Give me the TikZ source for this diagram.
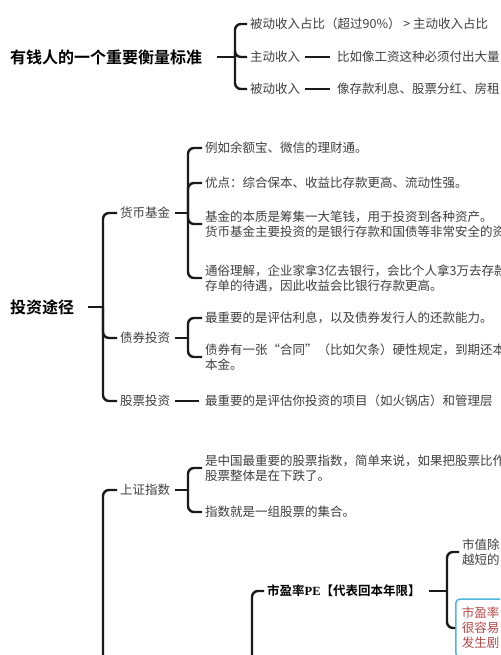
\documentclass[tikz,border=0pt]{standalone}
\usepackage{fontspec}
\newfontfamily\cjk{Noto Sans CJK SC}[BoldFont={Noto Sans CJK SC Bold}]
\newfontfamily\latinserif{Liberation Serif}
\definecolor{textgray}{RGB}{64, 64, 64}
\definecolor{linedark}{RGB}{26, 26, 26}
\definecolor{boxblue}{RGB}{79, 183, 221}
\definecolor{notered}{RGB}{184, 72, 74}
\usetikzlibrary{positioning, calc}

\tikzset{
  root/.style={font=\cjk\bfseries\fontsize{16}{19}\selectfont, text=black, inner sep=3pt, anchor=west},
  topic/.style={font=\cjk\fontsize{12.5}{15}\selectfont, text=textgray, inner sep=3pt, anchor=west, align=left},
  keytopic/.style={topic, font=\cjk\bfseries\fontsize{12.5}{15}\selectfont, text=black},
  notebox/.style={topic, text=notered, draw=boxblue, line width=1.5pt, rounded corners=4pt,
    inner xsep=6pt, inner ysep=8pt, text width=80pt},
  brace/.style={draw=linedark, line width=2.4pt, rounded corners=6pt},
  link/.style={draw=linedark, line width=1.8pt},
}

\begin{document}
\begin{tikzpicture}[x=1pt, y=-1pt]
  \fill[white] (0,0) rectangle (500,655);
  \useasboundingbox (0,0) rectangle (500,655);
  \clip (0,0) rectangle (500,655);

  % --- 有钱人的衡量标准
  \node[root] (rich) at (7,57) {有钱人的一个重要衡量标准};
  \coordinate (richJct) at (235,57);
  \node[topic] (rich1) at (247,24) {被动收入占比（超过90\%） > 主动收入占比};
  \node[topic] (rich2) at (247,57) {主动收入};
  \node[topic] (rich3) at (247,89) {被动收入};
  \node[topic] (rich2a) at (334,57) {比如像工资这种必须付出大量};
  \node[topic] (rich3a) at (334,89) {像存款利息、股票分红、房租};
  \draw[link, shorten <=12pt] (rich.east) -- (richJct);
  \foreach \c in {rich1, rich2, rich3}
    \draw[brace] (richJct) |- (\c.west);
  \draw[link, shorten <=2pt, shorten >=4pt] (rich2.east) -- (rich2a.west);
  \draw[link, shorten <=2pt, shorten >=4pt] (rich3.east) -- (rich3a.west);

  % --- 投资途径
  \node[root] (invest) at (7,307) {投资途径};
  \coordinate (investJct) at (103,307);
  \node[topic] (fund) at (117,213) {货币基金};
  \node[topic] (bond) at (117,338) {债券投资};
  \node[topic] (stock) at (117,401) {股票投资};
  \draw[link, shorten <=11pt] (invest.east) -- (investJct);
  \foreach \c in {fund, bond, stock}
    \draw[brace] (investJct) |- (\c.west);

  \coordinate (fundJct) at (188,213);
  \node[topic] (fund1) at (202,148) {例如余额宝、微信的理财通。};
  \node[topic] (fund2) at (202,183) {优点：综合保本、收益比存款更高、流动性强。};
  \node[topic] (fund3) at (202,224) {基金的本质是筹集一大笔钱，用于投资到各种资产。\\货币基金主要投资的是银行存款和国债等非常安全的资};
  \node[topic] (fund4) at (202,278) {通俗理解，企业家拿3亿去银行，会比个人拿3万去存款\\存单的待遇，因此收益会比银行存款更高。};
  \draw[link, shorten <=2pt] (fund.east) -- (fundJct);
  \foreach \c in {fund1, fund2, fund3, fund4}
    \draw[brace] (fundJct) |- (\c.west);

  \coordinate (bondJct) at (188,338);
  \node[topic] (bond1) at (202,318) {最重要的是评估利息，以及债券发行人的还款能力。};
  \node[topic] (bond2) at (202,357) {债券有一张“合同”（比如欠条）硬性规定，到期还本付息\\本金。};
  \draw[link, shorten <=2pt] (bond.east) -- (bondJct);
  \foreach \c in {bond1, bond2}
    \draw[brace] (bondJct) |- (\c.west);

  \node[topic] (stock1) at (202,401) {最重要的是评估你投资的项目（如火锅店）和管理层};
  \draw[link, shorten <=2pt, shorten >=3pt] (stock.east) -- (stock1.west);

  % --- 股票指标 (父节点在下方)
  \coordinate (indexJct) at (103,720);
  \node[topic] (szindex) at (117,490) {上证指数};
  \draw[brace] (indexJct) |- (szindex.west);

  \coordinate (szJct) at (188,490);
  \node[topic] (sz1) at (202,468) {是中国最重要的股票指数，简单来说，如果把股票比作\\股票整体是在下跌了。};
  \node[topic] (sz2) at (202,512) {指数就是一组股票的集合。};
  \draw[link, shorten <=2pt] (szindex.east) -- (szJct);
  \foreach \c in {sz1, sz2}
    \draw[brace] (szJct) |- (\c.west);

  \coordinate (valueJct) at (252,720);
  \node[keytopic] (pe) at (264,591) {市盈率{\latinserif\bfseries PE}【代表回本年限】};
  \draw[brace] (valueJct) |- (pe.west);

  \coordinate (peJct) at (447,591);
  \node[topic] (pe1) at (459,552) {市值除以\\越短的};
  \node[notebox] (pe2) at (455,628) {市盈率\\很容易\\发生剧};
  \draw[link, shorten <=5pt] (pe.east) -- (peJct);
  \foreach \c in {pe1, pe2}
    \draw[brace] (peJct) |- (\c.west);
\end{tikzpicture}
\end{document}
